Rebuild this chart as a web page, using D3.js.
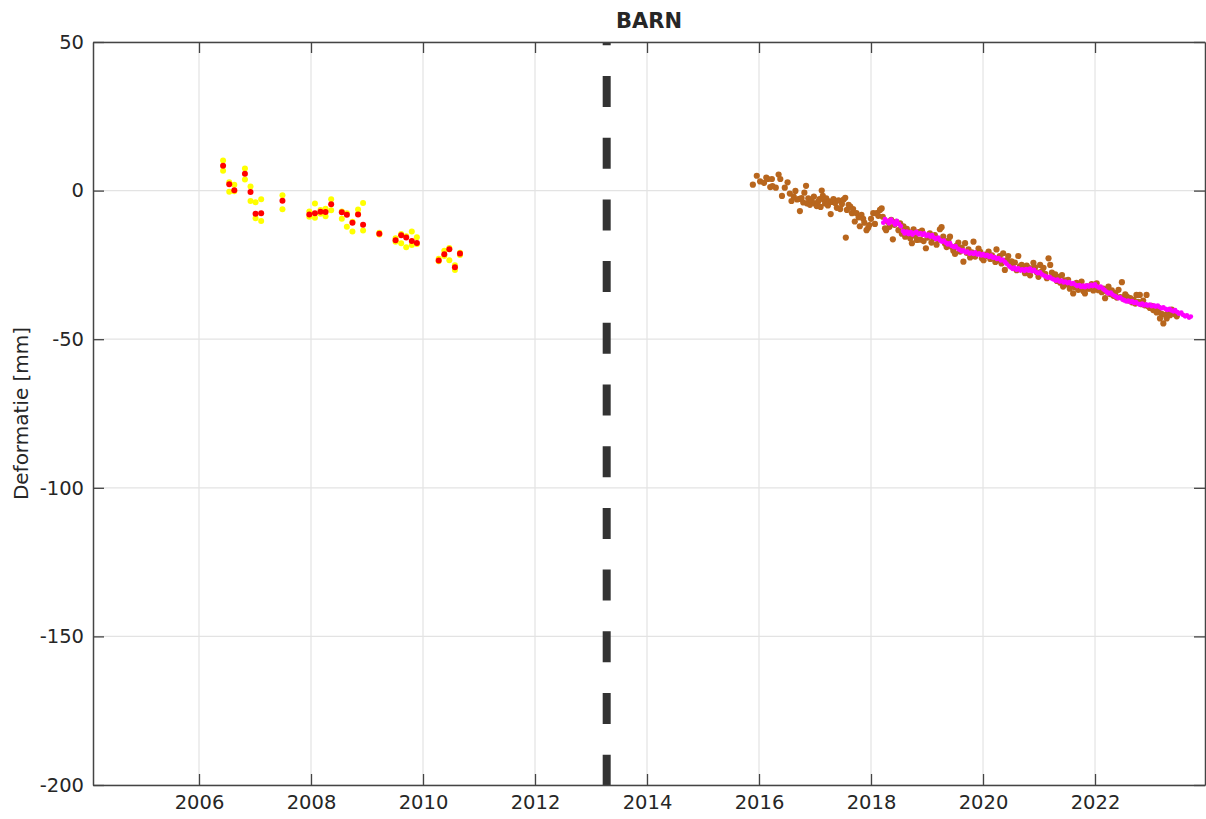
<!DOCTYPE html>
<html>
<head>
<meta charset="utf-8">
<style>
  body { margin: 0; background: #fff; }
  svg text { font-family: "DejaVu Sans", sans-serif; fill: #262626; }
</style>
</head>
<body>
<svg width="1206" height="819"></svg>
<script src="https://d3js.org/d3.v7.min.js"></script>
<script>
// ---- data (decimal year, deformation in mm) ----
var title = "BARN";
var yLabel = "Deformatie [mm]";
var xTicks = [2006, 2008, 2010, 2012, 2014, 2016, 2018, 2020, 2022];
var yTicks = [-200, -150, -100, -50, 0, 50];
var breakYear = 2013.28;

// older series: red = combined, yellow = the two geometries
var oldYears = [2006.43, 2006.54, 2006.63, 2006.82, 2006.92, 2007.01, 2007.11, 2007.49, 2007.97, 2008.07,
  2008.17, 2008.26, 2008.36, 2008.55, 2008.64, 2008.74, 2008.84, 2008.93, 2009.22, 2009.51,
  2009.61, 2009.70, 2009.80, 2009.89, 2010.28, 2010.38, 2010.47, 2010.57, 2010.66];
var redMm = [8.4, 2.1, 0.1, 5.7, -0.5, -7.8, -7.6, -3.4, -8.0, -7.6,
  -7.1, -7.2, -4.6, -7.3, -8.1, -10.8, -8.0, -11.5, -14.5, -16.7,
  -15.0, -15.8, -17.0, -17.6, -23.5, -21.4, -19.7, -25.8, -21.2];
var yellowHiMm = [10.1, 2.8, 2.0, 7.4, 1.4, -3.9, -2.9, -1.6, -7.0, -4.3,
  -6.5, -6.1, -2.9, -7.0, -7.6, -10.5, -6.4, -4.2, -14.2, -16.0,
  -14.6, -15.4, -13.8, -15.7, -22.9, -20.2, -19.3, -25.1, -20.9];
var yellowLoMm = [6.7, -0.4, -0.2, 3.7, -3.5, -9.3, -10.2, -6.3, -8.8, -9.1,
  -7.8, -8.6, -6.6, -9.5, -12.2, -13.8, -7.9, -13.4, -14.8, -17.2,
  -17.7, -19.1, -18.3, -18.0, -23.8, -22.0, -23.4, -26.7, -21.7];

// newer series
var brownPts = [
  [2015.89,2.0],[2015.96,5.0],[2016.02,3.1],[2016.09,2.6],[2016.13,4.4],[2016.16,3.9],[2016.20,1.2],[2016.23,3.9],
  [2016.24,1.5],[2016.30,1.0],[2016.35,5.4],[2016.38,3.9],[2016.41,-1.8],[2016.46,1.0],[2016.51,2.8],[2016.55,-1.0],
  [2016.58,-3.5],[2016.62,-2.0],[2016.65,-0.1],[2016.68,-3.0],[2016.72,-2.8],[2016.73,-6.9],[2016.76,-2.5],[2016.79,-4.0],
  [2016.81,-0.7],[2016.84,1.6],[2016.86,-4.3],[2016.88,-2.6],[2016.91,-4.8],[2016.94,-3.5],[2016.98,-2.0],[2017.00,-4.3],
  [2017.03,-5.2],[2017.06,-3.6],[2017.08,-2.9],[2017.10,-5.5],[2017.12,0.0],[2017.14,-1.8],[2017.16,-3.0],[2017.18,-4.3],
  [2017.20,-2.6],[2017.23,-5.0],[2017.26,-3.6],[2017.28,-7.9],[2017.30,-3.8],[2017.33,-2.9],[2017.36,-4.2],[2017.39,-5.8],
  [2017.42,-3.3],[2017.45,-6.2],[2017.48,-4.5],[2017.51,-3.0],[2017.54,-2.4],[2017.55,-15.8],[2017.57,-6.5],[2017.60,-4.8],
  [2017.63,-5.4],[2017.66,-7.6],[2017.68,-6.2],[2017.71,-10.4],[2017.74,-7.6],[2017.78,-9.0],[2017.80,-12.0],[2017.83,-8.2],
  [2017.86,-9.5],[2017.88,-10.8],[2017.92,-13.3],[2017.95,-12.5],[2017.97,-11.6],[2018.00,-9.5],[2018.04,-7.6],[2018.07,-11.2],
  [2018.10,-7.6],[2018.13,-8.5],[2018.16,-6.5],[2018.19,-6.0],[2018.21,-8.8],[2018.25,-12.7],[2018.27,-13.3],[2018.30,-10.5],
  [2018.33,-12.2],[2018.36,-9.8],[2018.39,-16.4],[2018.42,-11.5],[2018.45,-10.5],[2018.49,-13.3],[2018.52,-11.0],[2018.55,-14.5],
  [2018.58,-12.0],[2018.61,-15.5],[2018.64,-12.9],[2018.67,-14.0],[2018.70,-16.0],[2018.73,-17.7],[2018.76,-13.0],[2018.79,-15.2],
  [2018.82,-16.6],[2018.85,-14.0],[2018.88,-16.5],[2018.91,-13.5],[2018.94,-17.0],[2018.98,-19.4],[2019.01,-15.8],[2019.05,-14.4],
  [2019.08,-17.5],[2019.11,-16.0],[2019.14,-15.0],[2019.17,-18.2],[2019.20,-16.5],[2019.23,-13.0],[2019.26,-12.3],[2019.29,-15.5],
  [2019.32,-17.8],[2019.35,-19.0],[2019.38,-16.8],[2019.41,-15.5],[2019.44,-18.9],[2019.47,-20.2],[2019.50,-21.3],[2019.53,-18.5],
  [2019.56,-17.5],[2019.59,-20.5],[2019.62,-19.2],[2019.65,-23.9],[2019.68,-17.7],[2019.71,-21.0],[2019.74,-19.8],[2019.77,-22.5],
  [2019.80,-20.8],[2019.83,-17.2],[2019.86,-22.2],[2019.89,-21.0],[2019.92,-19.5],[2019.95,-20.6],[2019.98,-22.8],[2020.01,-23.4],
  [2020.04,-21.5],[2020.07,-22.0],[2020.10,-20.5],[2020.13,-23.0],[2020.16,-21.8],[2020.19,-22.8],[2020.22,-24.0],[2020.24,-19.8],
  [2020.27,-23.4],[2020.30,-22.0],[2020.33,-24.5],[2020.36,-21.1],[2020.39,-26.7],[2020.42,-23.5],[2020.45,-22.0],[2020.48,-25.0],
  [2020.51,-23.8],[2020.54,-26.0],[2020.57,-24.2],[2020.60,-26.8],[2020.63,-22.0],[2020.66,-25.5],[2020.69,-25.0],[2020.72,-26.5],
  [2020.75,-27.8],[2020.78,-25.2],[2020.81,-26.0],[2020.84,-28.5],[2020.87,-26.2],[2020.90,-24.3],[2020.93,-25.8],[2020.96,-27.5],
  [2020.99,-29.0],[2021.02,-25.0],[2021.05,-27.2],[2021.08,-26.0],[2021.11,-28.0],[2021.14,-29.5],[2021.17,-22.8],[2021.20,-25.0],
  [2021.23,-27.6],[2021.26,-29.0],[2021.29,-28.2],[2021.32,-30.4],[2021.35,-29.1],[2021.38,-31.0],[2021.41,-28.4],[2021.43,-32.3],
  [2021.46,-30.2],[2021.49,-31.6],[2021.52,-30.0],[2021.55,-33.0],[2021.58,-31.8],[2021.61,-34.6],[2021.64,-32.5],[2021.67,-31.0],
  [2021.70,-33.4],[2021.73,-32.0],[2021.76,-30.6],[2021.79,-33.8],[2021.82,-34.6],[2021.85,-32.2],[2021.88,-33.0],[2021.91,-32.9],
  [2021.94,-31.5],[2021.97,-33.6],[2022.00,-32.4],[2022.03,-31.2],[2022.06,-33.5],[2022.09,-32.8],[2022.12,-34.2],[2022.15,-33.0],
  [2022.18,-36.2],[2022.21,-34.0],[2022.24,-32.3],[2022.27,-34.8],[2022.30,-33.6],[2022.33,-35.4],[2022.36,-34.5],[2022.39,-36.0],
  [2022.42,-33.4],[2022.45,-35.8],[2022.48,-30.8],[2022.51,-36.5],[2022.54,-34.9],[2022.57,-35.7],[2022.60,-37.0],[2022.63,-36.2],
  [2022.66,-37.6],[2022.69,-36.8],[2022.72,-38.0],[2022.74,-35.1],[2022.77,-37.4],[2022.80,-35.1],[2022.83,-38.2],[2022.86,-37.0],
  [2022.89,-38.6],[2022.92,-35.1],[2022.95,-38.9],[2022.98,-39.5],[2023.01,-38.8],[2023.04,-40.2],[2023.07,-39.4],[2023.10,-41.0],
  [2023.13,-40.7],[2023.16,-43.0],[2023.19,-41.5],[2023.22,-44.7],[2023.25,-41.8],[2023.28,-43.0],[2023.31,-40.5],[2023.34,-41.9],
  [2023.37,-40.0],[2023.40,-40.7],[2023.43,-41.6],[2023.46,-42.3]
];

var magentaPts = [
  [2018.22,-10.8],[2018.25,-9.6],[2018.29,-10.2],[2018.32,-11.0],[2018.36,-9.8],[2018.39,-10.6],[2018.43,-11.4],[2018.46,-10.2],
  [2018.50,-11.2],[2018.53,-12.0],[2018.57,-13.6],[2018.60,-14.4],[2018.64,-13.8],[2018.67,-14.6],[2018.71,-14.0],[2018.74,-14.8],
  [2018.78,-14.2],[2018.81,-13.9],[2018.85,-14.7],[2018.88,-14.3],[2018.92,-14.9],[2018.95,-14.4],[2018.99,-15.2],[2019.02,-14.8],
  [2019.06,-15.5],[2019.09,-15.0],[2019.13,-15.9],[2019.16,-16.3],[2019.20,-15.8],[2019.23,-16.7],[2019.27,-17.2],[2019.30,-16.8],
  [2019.34,-17.6],[2019.37,-18.1],[2019.41,-17.7],[2019.44,-18.6],[2019.48,-19.0],[2019.51,-18.7],[2019.55,-19.5],[2019.58,-19.9],
  [2019.62,-20.4],[2019.65,-20.1],[2019.69,-20.8],[2019.72,-20.5],[2019.76,-21.2],[2019.79,-20.9],[2019.83,-21.3],[2019.86,-20.8],
  [2019.90,-21.5],[2019.93,-21.1],[2019.97,-21.8],[2020.00,-21.4],[2020.04,-22.0],[2020.07,-21.6],[2020.11,-22.3],[2020.14,-21.9],
  [2020.18,-22.6],[2020.21,-22.4],[2020.25,-23.0],[2020.28,-22.7],[2020.32,-23.5],[2020.35,-23.2],[2020.39,-24.0],[2020.42,-24.6],
  [2020.46,-25.3],[2020.49,-25.8],[2020.53,-26.3],[2020.56,-25.9],[2020.60,-26.6],[2020.63,-26.2],[2020.67,-26.9],[2020.70,-26.5],
  [2020.74,-27.0],[2020.77,-26.4],[2020.81,-26.9],[2020.84,-26.3],[2020.88,-27.1],[2020.91,-26.7],[2020.95,-27.4],[2020.98,-27.8],
  [2021.02,-27.5],[2021.05,-28.2],[2021.09,-28.6],[2021.12,-28.9],[2021.16,-29.3],[2021.19,-29.0],[2021.23,-29.6],[2021.26,-29.9],
  [2021.30,-30.3],[2021.33,-30.0],[2021.37,-30.6],[2021.40,-30.3],[2021.44,-30.9],[2021.47,-30.6],[2021.51,-31.1],[2021.54,-30.8],
  [2021.58,-31.4],[2021.61,-31.1],[2021.65,-31.7],[2021.68,-32.1],[2021.72,-31.8],[2021.75,-32.4],[2021.79,-32.0],[2021.82,-32.5],
  [2021.86,-31.9],[2021.89,-32.3],[2021.93,-31.7],[2021.96,-32.1],[2022.00,-31.6],[2022.03,-32.2],[2022.07,-32.6],[2022.10,-32.3],
  [2022.14,-33.0],[2022.17,-33.5],[2022.21,-34.1],[2022.24,-34.6],[2022.28,-34.3],[2022.31,-35.0],[2022.35,-35.4],[2022.38,-35.8],
  [2022.42,-36.2],[2022.45,-35.9],[2022.49,-36.6],[2022.52,-36.9],[2022.56,-37.3],[2022.59,-37.0],[2022.63,-37.5],[2022.66,-37.2],
  [2022.70,-37.8],[2022.73,-37.5],[2022.77,-38.1],[2022.80,-38.4],[2022.84,-38.0],[2022.87,-38.6],[2022.91,-38.3],[2022.94,-38.7],
  [2022.98,-38.4],[2023.01,-38.9],[2023.05,-38.6],[2023.08,-39.0],[2023.12,-38.7],[2023.15,-39.2],[2023.19,-39.6],[2023.22,-39.3],
  [2023.26,-39.8],[2023.29,-40.1],[2023.33,-39.8],[2023.36,-40.3],[2023.40,-40.6],[2023.43,-40.2],[2023.47,-40.9],[2023.50,-41.4],
  [2023.54,-41.1],[2023.57,-41.8],[2023.61,-42.3],[2023.64,-42.0],[2023.68,-42.7],[2023.71,-42.4]
];

// ---- layout ----
var svg = d3.select("svg");
var margin = {top: 42, right: 1, bottom: 34, left: 93};
var W = +svg.attr("width"), H = +svg.attr("height");
var plotW = W - margin.left - margin.right, plotH = H - margin.top - margin.bottom;

var x = d3.scaleLinear().domain([2004.107, 2023.964]).range([0, plotW]);
var y = d3.scaleLinear().domain([-200, 50]).range([plotH, 0]);

var g = svg.append("g").attr("transform", "translate(" + margin.left + "," + margin.top + ")");

// grid
g.append("g").selectAll("line")
  .data(xTicks).enter().append("line")
    .attr("x1", function(d) { return x(d); }).attr("x2", function(d) { return x(d); })
    .attr("y1", 0).attr("y2", plotH)
    .attr("stroke", "#e3e3e3").attr("stroke-width", 1.2);
g.append("g").selectAll("line")
  .data(yTicks).enter().append("line")
    .attr("x1", 0).attr("x2", plotW)
    .attr("y1", function(d) { return y(d); }).attr("y2", function(d) { return y(d); })
    .attr("stroke", "#e3e3e3").attr("stroke-width", 1.2);

// points
g.append("g").selectAll("circle")
  .data(brownPts).enter().append("circle")
    .attr("cx", function(d) { return x(d[0]); })
    .attr("cy", function(d) { return y(d[1]); })
    .attr("r", 3.1).attr("fill", "#b8661d");

g.append("g").selectAll("circle")
  .data(magentaPts).enter().append("circle")
    .attr("cx", function(d) { return x(d[0]); })
    .attr("cy", function(d) { return y(d[1]); })
    .attr("r", 2.4).attr("fill", "#ff00ff");

var yellow = g.append("g");
yellow.selectAll("circle.hi")
  .data(oldYears).enter().append("circle")
    .attr("class", "hi")
    .attr("cx", function(d) { return x(d); })
    .attr("cy", function(d, i) { return y(yellowHiMm[i]); })
    .attr("r", 3).attr("fill", "#ffff00");
yellow.selectAll("circle.lo")
  .data(oldYears).enter().append("circle")
    .attr("class", "lo")
    .attr("cx", function(d) { return x(d); })
    .attr("cy", function(d, i) { return y(yellowLoMm[i]); })
    .attr("r", 3).attr("fill", "#ffff00");

g.append("g").selectAll("circle")
  .data(oldYears).enter().append("circle")
    .attr("cx", function(d) { return x(d); })
    .attr("cy", function(d, i) { return y(redMm[i]); })
    .attr("r", 3).attr("fill", "#ff0000");

// break line
g.append("line")
  .attr("x1", x(breakYear)).attr("x2", x(breakYear))
  .attr("y1", y(50)).attr("y2", y(-200))
  .attr("stroke", "#333333").attr("stroke-width", 8)
  .attr("stroke-dasharray", "31,30.7").attr("stroke-dashoffset", 27.7);

// axes, ticks pointing inward like the original
function styleAxis(sel) {
  sel.selectAll(".domain").attr("stroke", "#444").attr("stroke-width", 1.5);
  sel.selectAll(".tick line").attr("stroke", "#444").attr("stroke-width", 1.3);
  sel.selectAll("text").attr("font-size", "19.5px").attr("fill", "#262626")
    .attr("font-family", "DejaVu Sans, sans-serif");
}
var plain = function(d) { return String(d); };
g.append("g").attr("transform", "translate(0," + plotH + ")")
  .call(d3.axisBottom(x).tickValues(xTicks).tickFormat(plain)
    .tickSizeInner(-11).tickSizeOuter(0).tickPadding(10))
  .call(styleAxis);
g.append("g")
  .call(d3.axisTop(x).tickValues(xTicks).tickFormat("")
    .tickSizeInner(-11).tickSizeOuter(0))
  .call(styleAxis);
g.append("g")
  .call(d3.axisLeft(y).tickValues(yTicks).tickFormat(plain)
    .tickSizeInner(-11).tickSizeOuter(0).tickPadding(9))
  .call(styleAxis);
g.append("g").attr("transform", "translate(" + plotW + ",0)")
  .call(d3.axisRight(y).tickValues(yTicks).tickFormat("")
    .tickSizeInner(-11).tickSizeOuter(0))
  .call(styleAxis);

// title and axis label
svg.append("text")
  .attr("x", margin.left + plotW / 2).attr("y", 28)
  .attr("text-anchor", "middle")
  .attr("font-size", "21px").attr("font-weight", "bold").attr("fill", "#000")
  .text(title);

svg.append("text")
  .attr("transform", "translate(28," + (margin.top + plotH / 2) + ") rotate(-90)")
  .attr("text-anchor", "middle")
  .attr("font-size", "20px")
  .text(yLabel);
</script>
</body>
</html>
